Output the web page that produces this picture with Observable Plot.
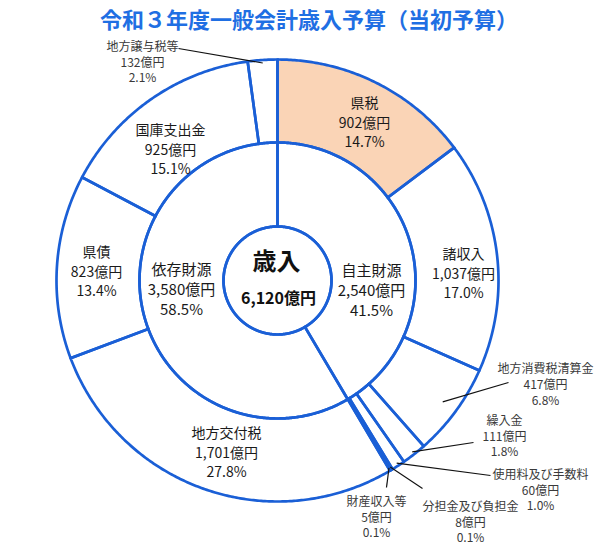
<!DOCTYPE html>
<html><head><meta charset="utf-8">
<script src="https://cdn.jsdelivr.net/npm/d3@7"></script>
<script src="https://cdn.jsdelivr.net/npm/@observablehq/plot@0.6"></script>
<style>
body{margin:0;background:#fff;}
#title{height:36px;line-height:36px;text-align:center;font-family:"Noto Sans CJK JP";font-weight:bold;font-size:22px;color:#1f6fe3;padding-left:6px;width:606px;white-space:nowrap;}
#chart svg{display:block;}
</style></head><body>
<div id="title">令和３年度一般会計歳入予算（当初予算）</div>
<div id="chart"></div>
<script>
// ---- data (億円) ----
const outerNames = ["県税","諸収入","地方消費税清算金","繰入金","使用料及び手数料","分担金及び負担金","財産収入等","地方交付税","県債","国庫支出金","地方譲与税等"];
const outerValues = [902,1037,417,111,60,8,5,1701,823,925,132];
const outerPct = [14.7,17.0,6.8,1.8,1.0,0.1,0.1,27.8,13.4,15.1,2.1];
const middleNames = ["自主財源","依存財源"];
const middleValues = [2540,3580];
const middlePct = [41.5,58.5];
const centerName = "歳入";
const centerValue = 6120;
const highlight = ["県税"];
const calloutNames = ["地方消費税清算金","繰入金","使用料及び手数料","分担金及び負担金","財産収入等","地方譲与税等"];

// ---- layout (pixels relative to the centre, y up) ----
const R0 = 54, R1 = 138, R2 = 221;
const labelPos = {
  "県税":[87,159], "諸収入":[186,8], "国庫支出金":[-107,132], "県債":[-181,10], "地方交付税":[-51,-171],
  "自主財源":[94,-9], "依存財源":[-96,-8],
  "地方譲与税等":[-135,219], "地方消費税清算金":[268,-103.5], "繰入金":[227,-155],
  "使用料及び手数料":[263,-209], "分担金及び負担金":[193,-241], "財産収入等":[99,-236]
};
const leaderEnd = {
  "地方譲与税等":[-99,232], "地方消費税清算金":[231,-102], "繰入金":[196,-162],
  "使用料及び手数料":[213,-195], "分担金及び負担金":[145,-208], "財産収入等":[109,-207]
};
const leaderR = {"地方消費税清算金":205};

const fmt = d3.format(",");
function slices(names, values) {
  const total = d3.sum(values);
  let acc = 0;
  return names.map((name, i) => {
    const a0 = acc / total * 2 * Math.PI;
    acc += values[i];
    const a1 = acc / total * 2 * Math.PI;
    return {name, value: values[i], i, a0, a1, mid: (a0 + a1) / 2};
  });
}
const pt = (a, r) => [r * Math.sin(a), r * Math.cos(a)];
function polygons(sl, r0, r1) {
  const pts = [];
  for (const s of sl) {
    const n = Math.max(2, Math.ceil((s.a1 - s.a0) / (Math.PI / 360)));
    const ring = [];
    for (let k = 0; k <= n; k++) ring.push(pt(s.a0 + (s.a1 - s.a0) * k / n, r1));
    if (r0 > 0) for (let k = n; k >= 0; k--) ring.push(pt(s.a0 + (s.a1 - s.a0) * k / n, r0));
    ring.push(ring[0]);
    const fill = highlight.includes(s.name) ? "#fad4b6" : "white";
    ring.forEach(([x, y]) => pts.push({key: r1 + s.name, x, y, fill}));
  }
  return pts;
}
const outerS = slices(outerNames, outerValues);
const midS = slices(middleNames, middleValues);
const inS = slices([centerName], [centerValue]);
const polys = [...polygons(outerS, R1, R2), ...polygons(midS, R0, R1), ...polygons(inS, 0, R0)];

const outerLabels = outerS.map(s => ({
  name: s.name,
  text: `${s.name}\n${fmt(s.value)}億円\n${outerPct[s.i].toFixed(1)}%`,
  x: labelPos[s.name][0], y: labelPos[s.name][1], mid: s.mid
}));
const insideLabels = outerLabels.filter(d => !calloutNames.includes(d.name));
const callLabels = outerLabels.filter(d => calloutNames.includes(d.name));
const midLabels = midS.map(s => ({
  text: `${s.name}\n${fmt(s.value)}億円\n${middlePct[s.i].toFixed(1)}%`,
  x: labelPos[s.name][0], y: labelPos[s.name][1]
}));
const centerTitle = [{text: centerName, x: -1, y: 18}];
const centerVal = [{text: `${fmt(centerValue)}億円`, x: 1, y: -18}];

const ff = "'Noto Sans CJK JP', sans-serif";
const chart = Plot.plot({
  width: 612, height: 510, margin: 0,
  x: {domain: [-277, 335], axis: null},
  y: {domain: [-266, 244], axis: null},
  color: {type: "identity"},
  style: {background: "white", fontFamily: ff},
  marks: [
    Plot.line(polys, {x: "x", y: "y", z: "key", fill: "fill", stroke: "none"}),
    Plot.line(polys, {x: "x", y: "y", z: "key", fill: "none", stroke: "#1a5fd6", strokeWidth: 2.7, strokeLinejoin: "miter", strokeMiterlimit: 4}),
    Plot.link(callLabels, {
      x1: d => pt(d.mid, leaderR[d.name] ?? 218)[0], y1: d => pt(d.mid, leaderR[d.name] ?? 218)[1],
      x2: d => leaderEnd[d.name][0], y2: d => leaderEnd[d.name][1],
      stroke: "#111", strokeWidth: 1.2
    }),
    Plot.text(insideLabels, {x: "x", y: "y", text: "text", fontSize: 14, lineHeight: 1.4, fill: "#1a1a1a", fontFamily: ff}),
    Plot.text(callLabels, {x: "x", y: "y", text: "text", fontSize: 12, lineHeight: 1.3, fill: "#3a3a3a", fontFamily: ff}),
    Plot.text(midLabels, {x: "x", y: "y", text: "text", fontSize: 15, lineHeight: 1.33, fill: "#1a1a1a", fontFamily: ff}),
    Plot.text(centerTitle, {x: "x", y: "y", text: "text", fontSize: 24, fontWeight: "bold", fill: "#111", fontFamily: ff}),
    Plot.text(centerVal, {x: "x", y: "y", text: "text", fontSize: 16, fontWeight: "bold", fill: "#111", fontFamily: ff})
  ]
});
document.getElementById("chart").appendChild(chart);
</script></body></html>
